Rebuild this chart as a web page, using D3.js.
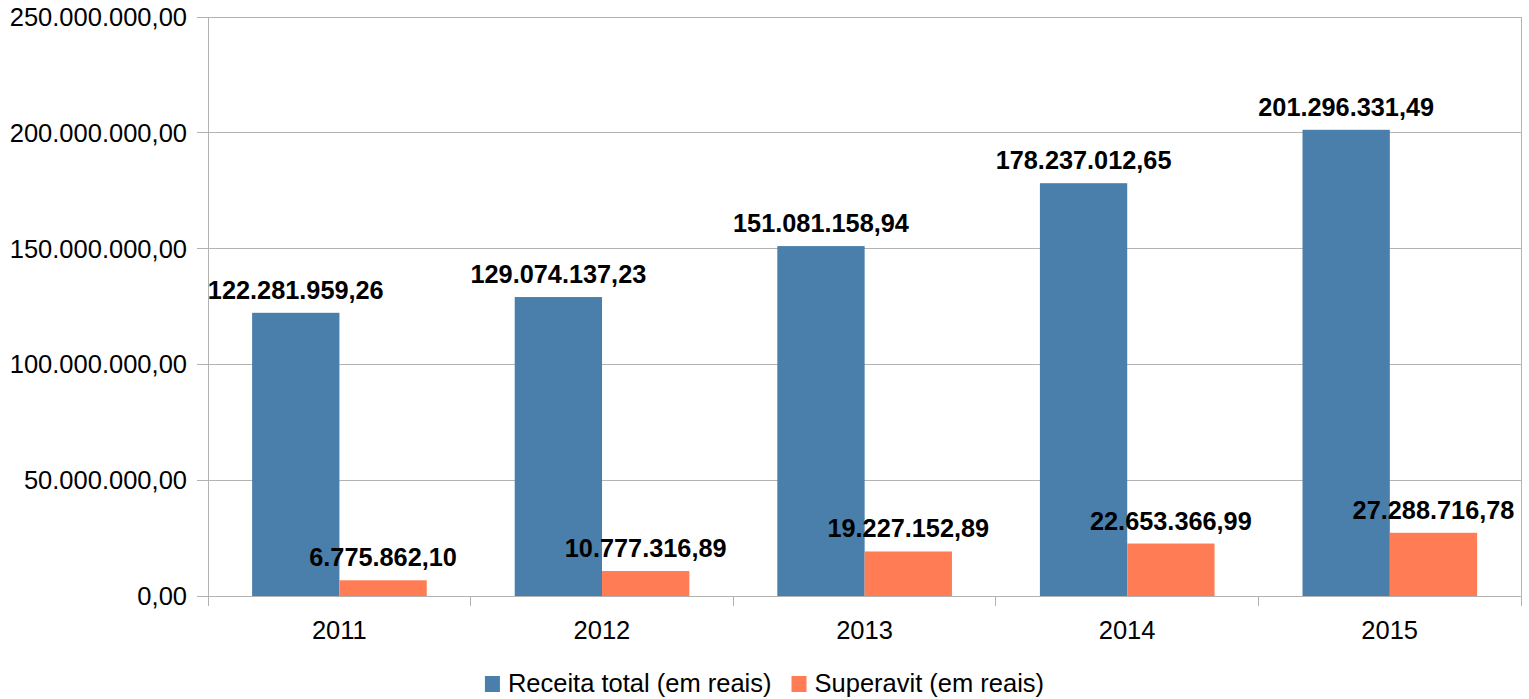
<!DOCTYPE html>
<html lang="pt">
<head>
<meta charset="UTF-8">
<title>Receita e Superavit</title>
<style>
  body { margin: 0; background: #fff; }
  svg { font-family: "Liberation Sans", Arial, sans-serif; }
</style>
</head>
<body>
<script src="https://cdn.jsdelivr.net/npm/d3@7"></script>
<script>
var years = ['2011', '2012', '2013', '2014', '2015']
var receita = [122281959.26, 129074137.23, 151081158.94, 178237012.65, 201296331.49]
var superavit = [6775862.10, 10777316.89, 19227152.89, 22653366.99, 27288716.78]
var seriesNames = ['Receita total (em reais)', 'Superavit (em reais)']
var yTicks = [0, 50000000, 100000000, 150000000, 200000000, 250000000]

var colors = ['#4a7eab', '#ff7c55']
var width = 1529, height = 699
var mLeft = 208, mRight = 1521, mTop = 17, mBottom = 596
var fs = 25.5

var fmt = function (v) {
  var s = v.toFixed(2).split('.')
  return s[0].replace(/\B(?=(\d{3})+(?!\d))/g, '.') + ',' + s[1]
}

var svg = d3.select('body').append('svg').attr('width', width).attr('height', height)

var x = d3.scaleBand().domain(years).range([mLeft, mRight]).padding(0)
var bw = x.bandwidth()
var xs = d3.scaleBand().domain([0, 1]).range([bw * 0.168, bw * 0.833]).padding(0)
var y = d3.scaleLinear().domain([0, 250000000]).range([mBottom, mTop])

// grid
svg.append('g').selectAll('line').data(yTicks).enter().append('line')
  .attr('x1', mLeft - 11).attr('x2', mRight)
  .attr('y1', d => y(d)).attr('y2', d => y(d))
  .attr('stroke', '#b3b3b3').attr('stroke-width', 1).attr('shape-rendering', 'crispEdges')

// axes lines
svg.append('line').attr('x1', mLeft).attr('x2', mLeft).attr('y1', mTop).attr('y2', mBottom + 10)
  .attr('stroke', '#b3b3b3').attr('shape-rendering', 'crispEdges')
svg.append('line').attr('x1', mRight).attr('x2', mRight).attr('y1', mTop).attr('y2', mBottom + 10)
  .attr('stroke', '#b3b3b3').attr('shape-rendering', 'crispEdges')
svg.append('g').selectAll('text').data(yTicks).enter().append('text')
  .attr('x', mLeft - 21).attr('y', d => y(d)).attr('dy', '0.35em')
  .attr('text-anchor', 'end').attr('font-size', fs).attr('fill', '#000')
  .text(d => fmt(d))

// x ticks
svg.append('g').selectAll('line').data(years.slice(1)).enter().append('line')
  .attr('x1', d => x(d)).attr('x2', d => x(d)).attr('y1', mBottom).attr('y2', mBottom + 10)
  .attr('stroke', '#b3b3b3').attr('shape-rendering', 'crispEdges')
svg.append('g').selectAll('text').data(years).enter().append('text')
  .attr('x', d => x(d) + bw / 2).attr('y', 639)
  .attr('text-anchor', 'middle').attr('font-size', fs).attr('fill', '#000')
  .text(d => d)

// bars
var groups = [receita, superavit]
groups.forEach(function (vals, si) {
  var g = svg.append('g')
  g.selectAll('rect').data(vals).enter().append('rect')
    .attr('x', (d, i) => x(years[i]) + xs(si))
    .attr('width', xs.bandwidth())
    .attr('y', d => y(d))
    .attr('height', d => y(0) - y(d))
    .attr('fill', colors[si])
  g.selectAll('text').data(vals).enter().append('text')
    .attr('x', (d, i) => x(years[i]) + xs(si) + xs.bandwidth() / 2)
    .attr('y', d => y(d) - 14)
    .attr('text-anchor', 'middle').attr('font-size', 25.3).attr('font-weight', 'bold').attr('fill', '#000')
    .text(d => fmt(d))
})

// legend, centred under the chart
var lg = svg.append('g')
var items = lg.selectAll('g').data(seriesNames).enter().append('g')
items.append('rect').attr('x', 0).attr('y', 676).attr('width', 15).attr('height', 16).attr('fill', (d, i) => colors[i])
items.append('text').attr('x', 23).attr('y', 692).attr('font-size', fs).attr('fill', '#000').text(d => d)
var pos = 0
items.each(function () {
  var w = d3.select(this).select('text').node().getComputedTextLength()
  d3.select(this).attr('transform', 'translate(' + pos + ',0)')
  pos += 23 + w + 20
})
pos -= 20
lg.attr('transform', 'translate(' + (width / 2 - pos / 2) + ',0)')
</script>
</body>
</html>
